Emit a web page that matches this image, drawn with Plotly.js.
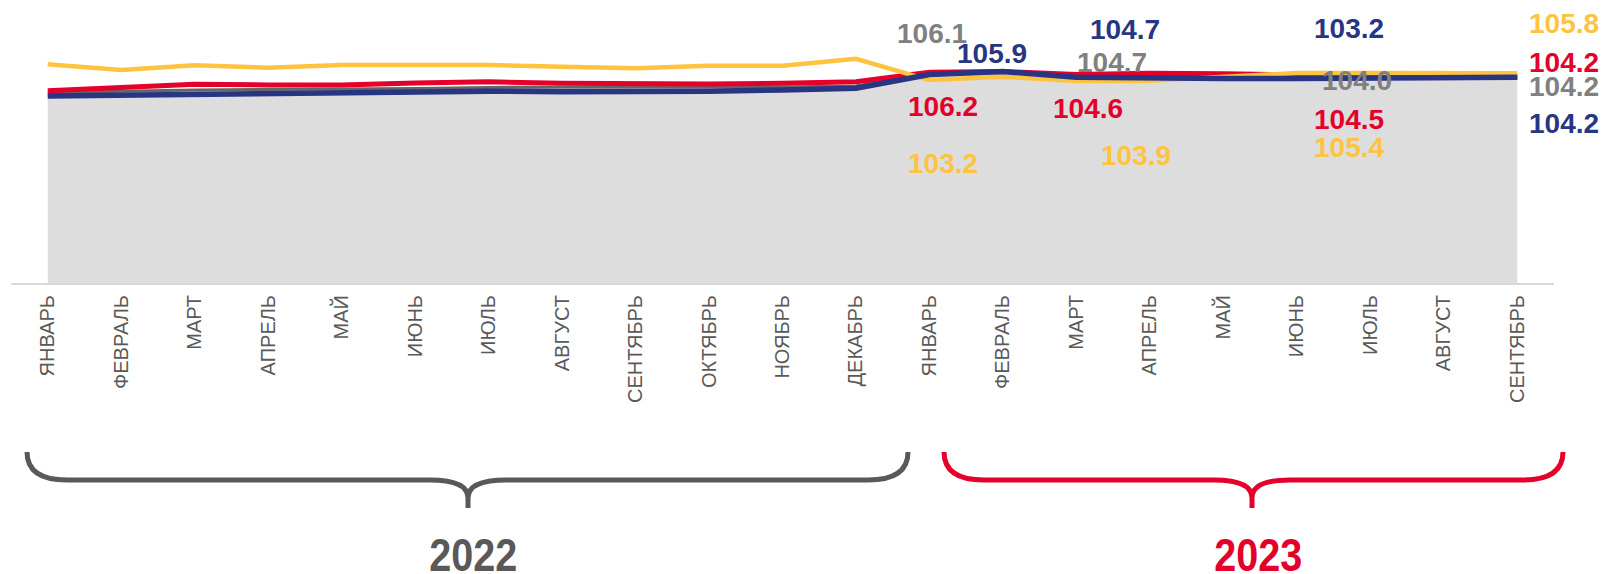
<!DOCTYPE html>
<html>
<head>
<meta charset="utf-8">
<script src="https://cdn.plot.ly/plotly-3.0.1.min.js"></script>
<style>
  html, body { margin: 0; padding: 0; background: #ffffff; }
  #chart { width: 1606px; height: 574px; }
</style>
</head>
<body>
<div id="chart"></div>
<script>
// ---- DATA ----
const months = ['ЯНВАРЬ','ФЕВРАЛЬ','МАРТ','АПРЕЛЬ','МАЙ','ИЮНЬ','ИЮЛЬ','АВГУСТ','СЕНТЯБРЬ','ОКТЯБРЬ','НОЯБРЬ','ДЕКАБРЬ',
                'ЯНВАРЬ','ФЕВРАЛЬ','МАРТ','АПРЕЛЬ','МАЙ','ИЮНЬ','ИЮЛЬ','АВГУСТ','СЕНТЯБРЬ'];
const years = ['2022', '2023'];

// series values (hidden axis, relative scale)
const grayArea = [67.1, 67.8, 68.2, 68.4, 68.4, 68.7, 69.1, 69.3, 69.3, 69.3, 69.3, 69.6,
                  74.2, 74.6, 73.1, 72.8, 72.6, 72.6, 72.6, 72.6, 72.8];
const yellowLine = [77.3, 75.3, 76.9, 76.1, 77.0, 77.0, 77.0, 76.4, 75.9, 76.8, 76.8, 79.2,
                    71.7, 72.9, 71.4, 71.5, 72.8, 74.2, 74.2, 74.2, 74.1];
const redLine = [67.9, 69.1, 70.2, 70.0, 70.0, 70.7, 71.1, 70.6, 70.3, 70.3, 70.6, 71.1,
                 74.5, 74.7, 73.7, 74.1, 73.9, 73.5, 73.1, 72.8, 72.8];
const navyLine = [66.1, 66.4, 66.8, 67.0, 67.0, 67.5, 67.8, 67.6, 67.6, 67.8, 68.2, 68.8,
                  73.7, 74.7, 72.7, 72.4, 72.3, 72.3, 72.3, 72.5, 72.7];

// value labels
const grayLabels   = ['106.1', '104.7', '104.0', '104.2'];
const yellowLabels = ['103.2', '103.9', '105.4', '105.8'];
const redLabels    = ['106.2', '104.6', '104.5', '104.2'];
const navyLabels   = ['105.9', '104.7', '103.2', '104.2'];

// ---- STYLE / LAYOUT HELPERS ----
const W = 1606, H = 574;
const PL = 11, PR = 1554, PT = 0, PB = 283;
const C = { gray: '#808080', yellow: '#FFC340', red: '#E4002B', navy: '#283583', dark: '#595959' };
const px = x => (x - PL) / (PR - PL);
const py = y => (PB - y) / (PB - PT);

// label pixel centers (positions only)
const labelPos = {
  gray:   [[932, 33], [1112, 62], [1357, 80], [1564, 86]],
  yellow: [[943, 163], [1136, 155], [1349, 147], [1564, 23]],
  red:    [[943, 106], [1088, 108], [1349, 119], [1564, 62]],
  navy:   [[992, 53], [1125, 30], [1349, 28], [1564, 123]]
};

const xs = months.map((_, i) => i);

const traces = [
  { x: xs, y: grayArea, type: 'scatter', mode: 'lines', fill: 'tozeroy',
    fillcolor: '#DDDDDD', line: { color: '#666666', width: 3 }, hoverinfo: 'skip' },
  { x: xs, y: redLine, type: 'scatter', mode: 'lines',
    line: { color: C.red, width: 5 }, hoverinfo: 'skip' },
  { x: xs, y: yellowLine, type: 'scatter', mode: 'lines',
    line: { color: C.yellow, width: 4.5 }, hoverinfo: 'skip' },
  { x: xs, y: navyLine, type: 'scatter', mode: 'lines',
    line: { color: C.navy, width: 5.5 }, hoverinfo: 'skip' }
];

const annotations = [];
function addLabels(texts, pos, color) {
  texts.forEach((t, i) => {
    annotations.push({
      xref: 'paper', yref: 'paper', x: px(pos[i][0]), y: py(pos[i][1]),
      xanchor: 'center', yanchor: 'middle', showarrow: false, text: t,
      font: { family: 'Liberation Sans, Arial, sans-serif', size: 28, color: color, weight: 'bold' }
    });
  });
}
addLabels(grayLabels, labelPos.gray, C.gray);
addLabels(yellowLabels, labelPos.yellow, C.yellow);
addLabels(redLabels, labelPos.red, C.red);
addLabels(navyLabels, labelPos.navy, C.navy);

// braces
function bracePath(L, R, T) {
  const y0 = 452, yh = 480, yt = 508, rx = 40, m = 38, k = 18;
  const p = (x, y) => px(x).toFixed(5) + ',' + py(y).toFixed(5);
  return 'M' + p(L, y0) + ' Q' + p(L, yh) + ' ' + p(L + rx, yh) +
         ' L' + p(T - m, yh) + ' Q' + p(T, yh) + ' ' + p(T, yh + k) +
         ' L' + p(T, yt) + ' M' + p(T, yh + k) +
         ' Q' + p(T, yh) + ' ' + p(T + m, yh) +
         ' L' + p(R - rx, yh) + ' Q' + p(R, yh) + ' ' + p(R, y0);
}
const braces = [
  { L: 27, R: 908, T: 468, color: C.dark, textX: 473 },
  { L: 944, R: 1563, T: 1252, color: C.red, textX: 1258 }
];
const shapes = braces.map(b => ({
  type: 'path', xref: 'paper', yref: 'paper', path: bracePath(b.L, b.R, b.T),
  line: { color: b.color, width: 5 }, layer: 'above'
}));
braces.forEach((b, i) => {
  annotations.push({
    xref: 'paper', yref: 'paper', x: px(b.textX), y: py(555),
    xanchor: 'center', yanchor: 'middle', showarrow: false, text: years[i],
    font: { family: 'Liberation Sans, Arial, sans-serif', size: 46, color: b.color, weight: 'bold' }
  });
});

const layout = {
  width: W, height: H,
  margin: { l: PL, r: W - PR, t: PT, b: H - PB, pad: 0 },
  paper_bgcolor: '#ffffff', plot_bgcolor: '#ffffff',
  showlegend: false,
  xaxis: {
    range: [-0.5, 20.5], tickmode: 'array', tickvals: xs, ticktext: months,
    tickangle: -90, ticks: '', showgrid: false, zeroline: false,
    showline: true, linecolor: '#D9D9D9', linewidth: 2,
    ticklabelstandoff: 2,
    tickfont: { family: 'Liberation Sans, Arial, sans-serif', size: 20, color: C.dark },
    fixedrange: true
  },
  yaxis: {
    range: [0, 100], visible: false, showgrid: false, zeroline: false, fixedrange: true
  },
  annotations: annotations,
  shapes: shapes
};

Plotly.newPlot('chart', traces, layout, { displayModeBar: false, staticPlot: true }).then(gd => {
  // narrow the year captions to a condensed look
  const groups = gd.querySelectorAll('.annotation');
  groups.forEach(g => {
    const t = g.querySelector('text');
    if (t && years.indexOf(t.textContent) >= 0) {
      const bb = t.getBBox();
      const cx = bb.x + bb.width / 2;
      t.setAttribute('transform', 'translate(' + cx + ',0) scale(0.86,1) translate(' + (-cx) + ',0)');
    }
  });
});
</script>
</body>
</html>
